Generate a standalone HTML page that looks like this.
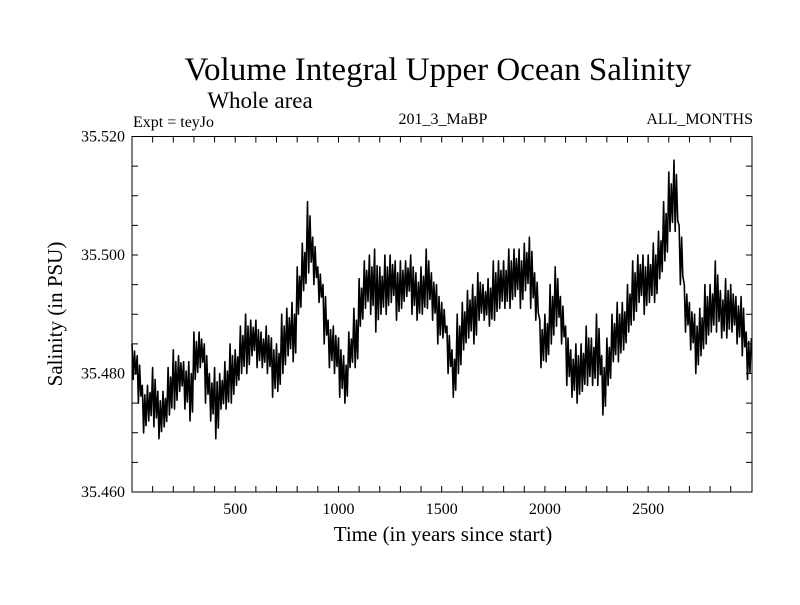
<!DOCTYPE html>
<html><head><meta charset="utf-8"><style>
body{margin:0;background:#fff}
svg text{font-family:"Liberation Serif",serif;fill:#000}
</style></head><body>
<svg width="800" height="600">
<text x="438" y="80" font-size="33" text-anchor="middle">Volume Integral Upper Ocean Salinity</text>
<text x="260" y="108" font-size="23" text-anchor="middle">Whole area</text>
<text x="133" y="127" font-size="16">Expt = teyJo</text>
<text x="443" y="124" font-size="16" text-anchor="middle">201_3_MaBP</text>
<text x="753" y="124" font-size="16" text-anchor="end">ALL_MONTHS</text>
<text x="443" y="541" font-size="21" text-anchor="middle">Time (in years since start)</text>
<text x="62" y="314" font-size="21" text-anchor="middle" transform="rotate(-90 62 314)">Salinity (in PSU)</text>
<g id="axes"></g>
<path id="series" fill="none" stroke="#000" stroke-width="1.6" stroke-linejoin="round"/>
<rect x="132" y="136.5" width="620" height="355.5" fill="none" stroke="#000" stroke-width="1"/>
</svg>
<script>
const years=[];for(let i=0;i<=120;i++)years.push(i*25);
const center=[35.482,35.479,35.474,35.475,35.476,35.473,35.474,35.477,35.479,35.480,35.478,35.477,35.483,35.484,35.480,35.476,35.475,35.477,35.478,35.480,35.481,35.484,35.485,35.486,35.485,35.484,35.484,35.481,35.481,35.485,35.487,35.487,35.494,35.498,35.503,35.499,35.495,35.490,35.485,35.484,35.481,35.479,35.484,35.486,35.492,35.495,35.495,35.494,35.494,35.495,35.496,35.494,35.495,35.496,35.495,35.493,35.494,35.496,35.493,35.490,35.489,35.484,35.480,35.485,35.488,35.490,35.490,35.493,35.492,35.492,35.494,35.495,35.495,35.496,35.497,35.496,35.498,35.497,35.493,35.485,35.486,35.490,35.493,35.489,35.483,35.480,35.480,35.481,35.483,35.482,35.484,35.478,35.482,35.486,35.487,35.488,35.491,35.494,35.496,35.495,35.496,35.497,35.500,35.504,35.509,35.510,35.500,35.491,35.488,35.485,35.487,35.490,35.491,35.493,35.490,35.491,35.491,35.489,35.488,35.483,35.483];
const spread=[0.003,0.004,0.004,0.003,0.005,0.004,0.003,0.004,0.005,0.003,0.004,0.005,0.004,0.003,0.005,0.004,0.006,0.003,0.004,0.005,0.003,0.004,0.005,0.003,0.004,0.003,0.004,0.005,0.004,0.005,0.004,0.005,0.004,0.004,0.006,0.004,0.003,0.005,0.004,0.004,0.005,0.004,0.003,0.005,0.004,0.004,0.005,0.007,0.004,0.005,0.004,0.005,0.004,0.003,0.005,0.004,0.004,0.005,0.004,0.005,0.003,0.004,0.004,0.005,0.004,0.004,0.005,0.004,0.003,0.004,0.005,0.004,0.004,0.005,0.004,0.005,0.004,0.006,0.004,0.004,0.004,0.005,0.005,0.004,0.005,0.004,0.005,0.004,0.005,0.004,0.006,0.005,0.004,0.004,0.005,0.004,0.004,0.005,0.004,0.005,0.004,0.005,0.004,0.005,0.005,0.006,0.005,0.004,0.004,0.005,0.004,0.005,0.004,0.006,0.004,0.005,0.004,0.004,0.005,0.004,0.003];
const xTicks=[500,1000,1500,2000,2500];
const yTicks=[35.460,35.480,35.500,35.520];
const X=t=>132+t*(620/3003), Y=v=>492-(v-35.460)*(355.5/0.060);
const ns='http://www.w3.org/2000/svg', ax=document.getElementById('axes');
function ln(x1,y1,x2,y2){const l=document.createElementNS(ns,'line');l.setAttribute('x1',x1);l.setAttribute('y1',y1);l.setAttribute('x2',x2);l.setAttribute('y2',y2);l.setAttribute('stroke','#000');


ax.appendChild(l);}
function tx(x,y,s,a){const t=document.createElementNS(ns,'text');t.setAttribute('x',x);t.setAttribute('y',y);t.setAttribute('font-size','16');t.setAttribute('text-anchor',a);t.textContent=s;


ax.appendChild(t);}
for(let t=100;t<3000;t+=100){ln(X(t),492,X(t),486);ln(X(t),136.5,X(t),142.5);}
for(let v=35.465;v<35.5199;v+=0.005){ln(132,Y(v),138,Y(v));ln(752,Y(v),746,Y(v));}
xTicks.forEach(t=>tx(X(t),514,String(t),'middle'));
yTicks.forEach(v=>tx(125,Y(v)+5,v.toFixed(3),'end'));
let d='';const m=[1,-1,0.6,-0.7],off=[0,6,12,18];
for(let i=0;i<years.length;i++){for(let k=0;k<4;k++){const t=years[i]+off[k];if(t>3003)break;d+=(d?'L':'M')+X(t).toFixed(1)+','+Y(center[i]+spread[i]*m[k]).toFixed(1);}}
document.getElementById('series').setAttribute('d',d);
</script>
</body></html>
